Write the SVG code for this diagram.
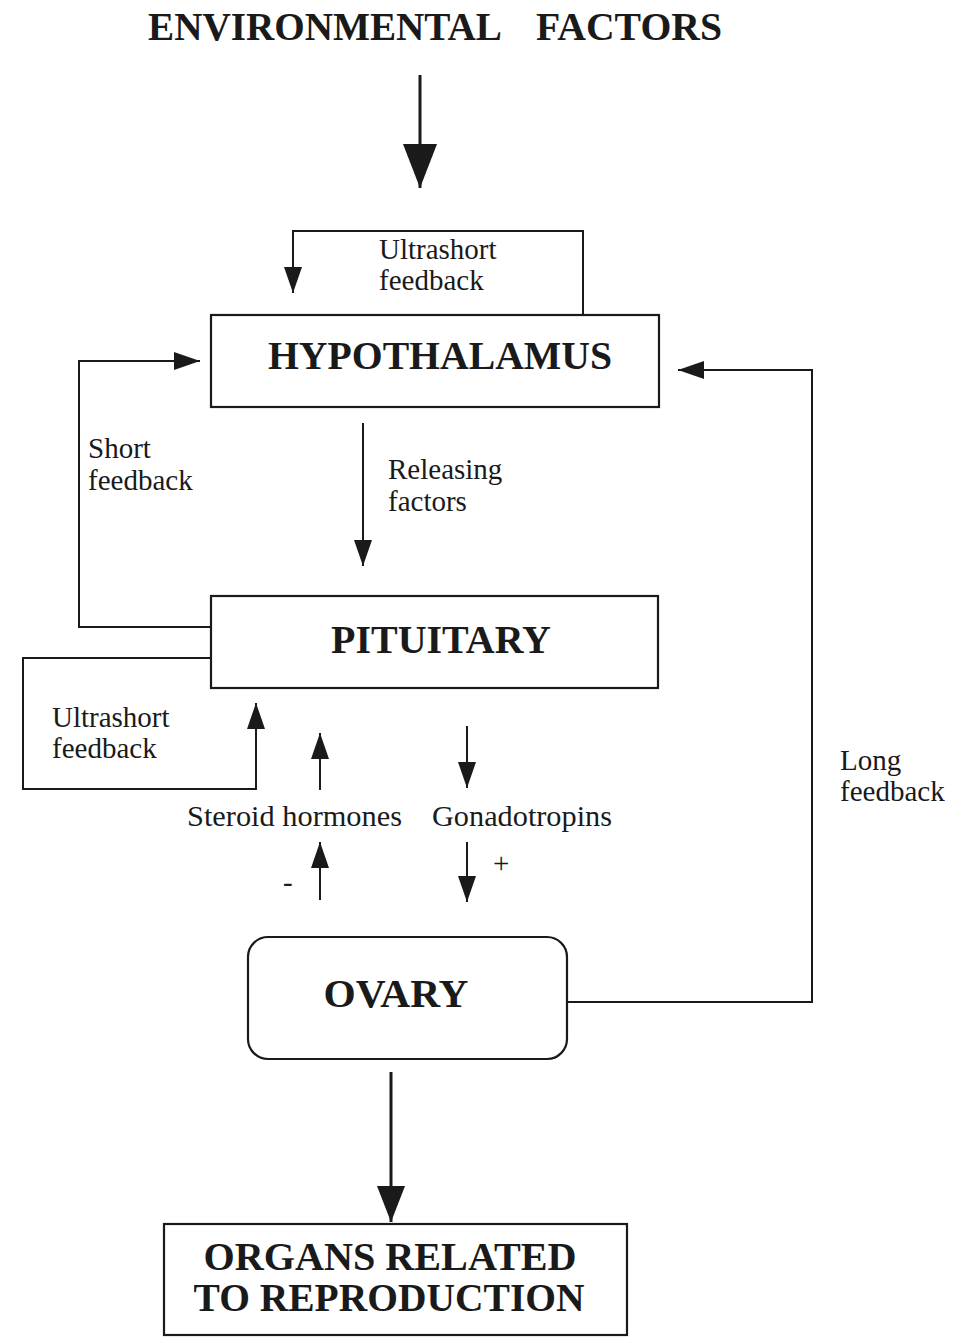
<svg xmlns="http://www.w3.org/2000/svg" width="955" height="1338" viewBox="0 0 955 1338">
<style>
.box{fill:#fff;stroke:#1a1a1a;stroke-width:2.2}
.ln{fill:none;stroke:#1a1a1a;stroke-width:2}
.big{fill:none;stroke:#1a1a1a;stroke-width:3}
.t{font-family:"Liberation Serif","Times New Roman",serif;font-size:29px;fill:#1a1a1a}
.b{font-family:"Liberation Serif","Times New Roman",serif;font-weight:bold;font-size:40px;fill:#1a1a1a;text-anchor:middle}
</style>
<defs>
<marker id="ah" markerUnits="userSpaceOnUse" viewBox="0 0 26 18" refX="26" refY="9" markerWidth="26" markerHeight="18" orient="auto">
<path d="M0,0 L26,9 L0,18 z" fill="#1a1a1a"/>
</marker>
<marker id="bh" markerUnits="userSpaceOnUse" viewBox="0 0 44 34" refX="44" refY="17" markerWidth="44" markerHeight="34" orient="auto">
<path d="M0,0 L44,17 L0,34 z" fill="#1a1a1a"/>
</marker>
<marker id="mh" markerUnits="userSpaceOnUse" viewBox="0 0 36 28" refX="36" refY="14" markerWidth="36" markerHeight="28" orient="auto">
<path d="M0,0 L36,14 L0,28 z" fill="#1a1a1a"/>
</marker>
</defs>
<rect width="955" height="1338" fill="#fff"/>

<g id="environmental">
<text class="b" x="325" y="40" font-size="38" textLength="354" lengthAdjust="spacingAndGlyphs">ENVIRONMENTAL</text>
<text class="b" x="629" y="40" font-size="38" textLength="186" lengthAdjust="spacingAndGlyphs">FACTORS</text>
</g>

<g id="hypothalamus">
<rect class="box" x="211" y="315" width="448" height="92"/>
<text class="b" x="440" y="369" textLength="344" lengthAdjust="spacingAndGlyphs">HYPOTHALAMUS</text>
</g>

<g id="pituitary">
<rect class="box" x="211" y="596" width="447" height="92"/>
<text class="b" x="441" y="653" textLength="220" lengthAdjust="spacingAndGlyphs">PITUITARY</text>
</g>

<g id="ovary">
<rect class="box" x="248" y="937" width="319" height="122" rx="20" ry="20"/>
<text class="b" x="396" y="1007" textLength="145" lengthAdjust="spacingAndGlyphs">OVARY</text>
</g>

<g id="organs">
<rect class="box" x="164" y="1224" width="463" height="111"/>
<text class="b" x="390" y="1270" textLength="373" lengthAdjust="spacingAndGlyphs">ORGANS RELATED</text>
<text class="b" x="389" y="1311" textLength="391" lengthAdjust="spacingAndGlyphs">TO REPRODUCTION</text>
</g>

<g id="connectors">
<path class="big" d="M420,75 V188" marker-end="url(#bh)"/>
<path class="ln" d="M583,315 V231 H293 V293" marker-end="url(#ah)"/>
<path class="ln" d="M211,627 H79 V361 H200" marker-end="url(#ah)"/>
<path class="ln" d="M363,423 V566" marker-end="url(#ah)"/>
<path class="ln" d="M211,658 H23 V789 H256 V703" marker-end="url(#ah)"/>
<path class="ln" d="M320,790 V733" marker-end="url(#ah)"/>
<path class="ln" d="M467,726 V788" marker-end="url(#ah)"/>
<path class="ln" d="M320,900 V842" marker-end="url(#ah)"/>
<path class="ln" d="M467,842 V902" marker-end="url(#ah)"/>
<path class="ln" d="M567,1002 H812 V370 H678" marker-end="url(#ah)"/>
<path class="big" d="M391,1072 V1222" marker-end="url(#mh)"/>
</g>

<g id="labels">
<text class="t" x="379" y="259">Ultrashort</text>
<text class="t" x="379" y="290">feedback</text>
<text class="t" x="88" y="458">Short</text>
<text class="t" x="88" y="490">feedback</text>
<text class="t" x="388" y="479">Releasing</text>
<text class="t" x="388" y="511">factors</text>
<text class="t" x="52" y="727">Ultrashort</text>
<text class="t" x="52" y="758">feedback</text>
<text class="t" x="187" y="826" textLength="215" lengthAdjust="spacingAndGlyphs">Steroid hormones</text>
<text class="t" x="432" y="826" textLength="180" lengthAdjust="spacingAndGlyphs">Gonadotropins</text>
<text class="t" x="283" y="892">-</text>
<text class="t" x="493" y="873">+</text>
<text class="t" x="840" y="770">Long</text>
<text class="t" x="840" y="801">feedback</text>
</g>
</svg>
